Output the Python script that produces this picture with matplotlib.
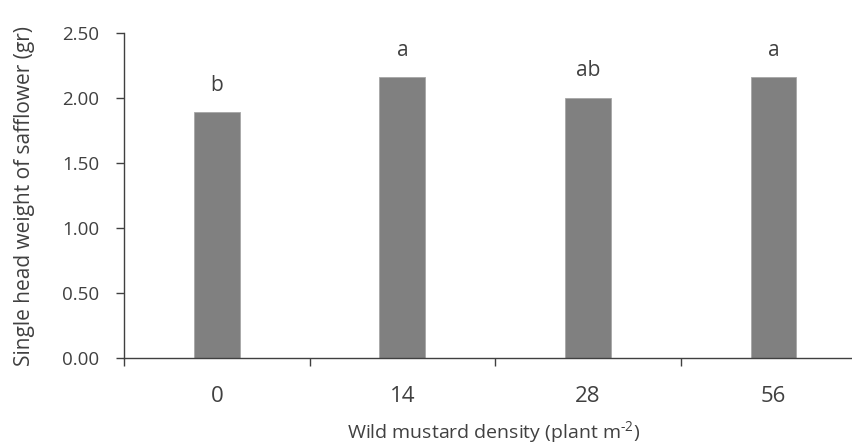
import numpy as np
import matplotlib
matplotlib.use("Agg")
import matplotlib.pyplot as plt

# Daten
dichte = ["0", "14", "28", "56"]
gewicht = [1.89, 2.16, 2.00, 2.16]
buchstaben = ["b", "a", "ab", "a"]

plt.rcParams['font.family'] = ['Open Sans', 'DejaVu Sans']
textfarbe = "#404040"

fig = plt.figure(figsize=(8.53, 4.48), dpi=100)
ax = fig.add_axes([0.1454, 0.2009, 0.87, 0.7254])

pos = np.arange(len(dichte))
ax.bar(pos, gewicht, width=0.246, color="#808080", edgecolor="#a6a6a6", linewidth=0.6, zorder=2)

for i in range(len(pos)):
    ax.annotate(buchstaben[i], (pos[i], gewicht[i]), xytext=(0, 19.5), textcoords="offset points",
                ha="center", va="center", fontsize=15, color=textfarbe)

ax.set_xlim(-0.5, len(dichte) - 0.5)
ax.set_ylim(0, 2.5)
ax.set_yticks(np.arange(0, 2.51, 0.5))
ax.set_yticklabels(["{0:.2f}".format(v) for v in np.arange(0, 2.51, 0.5)])

# Labels in der Mitte, Striche zwischen den Kategorien
ax.set_xticks(pos)
ax.set_xticklabels(dichte)
ax.set_xticks(np.arange(-0.5, len(dichte), 1.0), minor=True)
ax.tick_params(axis="x", which="major", length=0, pad=20, labelsize=16, labelcolor=textfarbe)
ax.tick_params(axis="x", which="minor", length=6, width=1, color=textfarbe, direction="out")
ax.tick_params(axis="y", length=6, width=1, color=textfarbe, pad=12, labelsize=13.5, labelcolor=textfarbe)

for s in ["top", "right"]:
    ax.spines[s].set_visible(False)
for s in ["left", "bottom"]:
    ax.spines[s].set_color(textfarbe)
    ax.spines[s].set_linewidth(1)

fig.text(0.579, 0.034, "Wild mustard density (plant m$^{\\mathregular{\u20102}}$)", ha="center", va="center",
         fontsize=14, color=textfarbe)
fig.text(0.029, 0.5625, "Single head weight of safflower (gr)", ha="center", va="center", rotation=90,
         fontsize=15, color=textfarbe)

fig.savefig("out.png", dpi=100)
